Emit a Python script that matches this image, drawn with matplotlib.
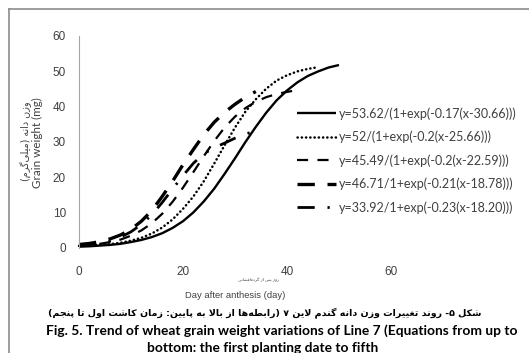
import matplotlib
matplotlib.use('Agg')
import matplotlib.pyplot as plt
from matplotlib.lines import Line2D

# ---------------- data ----------------
days_1 = [0, 2, 4, 6, 8, 10, 12, 14, 16, 18, 20, 22, 24, 26, 28, 30, 32, 34, 36, 38, 40, 42, 44, 46, 48, 50]
weight_1 = [0.3, 0.4, 0.6, 0.8, 1.1, 1.6, 2.2, 3.0, 4.1, 5.6, 7.5, 10.0, 13.1, 16.7, 20.9, 25.3, 29.9, 34.2,
            38.2, 41.7, 44.5, 46.8, 48.6, 49.9, 51.0, 51.7]

days_2 = [0, 2, 4, 6, 8, 10, 12, 14, 16, 18, 20, 22, 24, 26, 28, 30, 32, 34, 36, 38, 40, 42, 44, 46]
weight_2 = [0.5, 0.6, 0.8, 1.0, 1.4, 2.0, 2.8, 4.0, 5.7, 8.0, 11.0, 14.5, 18.8, 23.8, 29.0, 34.0, 38.5, 42.0,
            45.0, 47.3, 48.8, 49.9, 50.6, 51.1]

days_3 = [0, 2, 4, 6, 8, 10, 12, 14, 16, 18, 20, 22, 24, 26, 28, 30, 32, 34, 36, 38, 40, 42]
weight_3 = [0.5, 0.7, 1.1, 1.6, 2.3, 3.4, 4.9, 6.9, 9.6, 13.0, 17.0, 21.4, 25.9, 30.2, 34.0, 37.1, 39.5, 41.3,
            42.6, 43.5, 44.1, 44.6]

days_4 = [0, 2, 4, 6, 8, 10, 12, 14, 16, 18, 20, 22, 24, 26, 28, 30, 32, 34]
weight_4 = [0.9, 1.2, 1.7, 2.5, 3.6, 5.2, 7.5, 10.5, 14.5, 18.8, 23.5, 27.8, 32.0, 35.5, 38.3, 40.6, 42.6, 44.2]

days_5 = [0, 2, 4, 6, 8, 10, 12, 14, 16, 18, 20, 22, 24, 26, 28, 30, 32, 34]
weight_5 = [0.5, 0.8, 1.2, 1.9, 3.0, 4.5, 6.6, 9.3, 12.8, 16.6, 20.4, 23.9, 26.6, 28.3, 29.6, 31.0, 32.2, 33.0]

series_labels = [
    'y=53.62/(1+exp(-0.17(x-30.66)))',
    'y=52/(1+exp(-0.2(x-25.66)))',
    'y=45.49/(1+exp(-0.2(x-22.59)))',
    'y=46.71/1+exp(-0.21(x-18.78)))',
    'y=33.92/1+exp(-0.23(x-18.20)))',
]
x_ticks = [0, 20, 40, 60]
y_ticks = [0, 10, 20, 30, 40, 50, 60]

ylabel_fa = 'وزن دانه (میلی\u200cگرم)'
ylabel_en = 'Grain weight (mg)'
xlabel_fa = 'روز پس از گرده\u200cافشانی'
xlabel_en = 'Day after anthesis (day)'
caption_fa = 'شکل ۵- روند تغییرات وزن دانه گندم لاین ۷ (رابطه\u200cها از بالا به پایین: زمان کاشت اول تا پنجم)'
caption_en1 = 'Fig. 5. Trend of wheat grain weight variations of Line 7 (Equations from up to'
caption_en2 = 'bottom: the first planting date to fifth'

# ---------------- simple Persian shaping (presentation forms, visual order) ----------------
_FORMS = {
    '\u0627': ('\uFE8D', '\uFE8E', None, None),
    '\u0628': ('\uFE8F', '\uFE90', '\uFE91', '\uFE92'),
    '\u062A': ('\uFE95', '\uFE96', '\uFE97', '\uFE98'),
    '\u062C': ('\uFE9D', '\uFE9E', '\uFE9F', '\uFEA0'),
    '\u062F': ('\uFEA9', '\uFEAA', None, None),
    '\u0631': ('\uFEAD', '\uFEAE', None, None),
    '\u0632': ('\uFEAF', '\uFEB0', None, None),
    '\u0633': ('\uFEB1', '\uFEB2', '\uFEB3', '\uFEB4'),
    '\u0634': ('\uFEB5', '\uFEB6', '\uFEB7', '\uFEB8'),
    '\u0637': ('\uFEC1', '\uFEC2', '\uFEC3', '\uFEC4'),
    '\u063A': ('\uFECD', '\uFECE', '\uFECF', '\uFED0'),
    '\u0641': ('\uFED1', '\uFED2', '\uFED3', '\uFED4'),
    '\u0644': ('\uFEDD', '\uFEDE', '\uFEDF', '\uFEE0'),
    '\u0645': ('\uFEE1', '\uFEE2', '\uFEE3', '\uFEE4'),
    '\u0646': ('\uFEE5', '\uFEE6', '\uFEE7', '\uFEE8'),
    '\u0647': ('\uFEE9', '\uFEEA', '\uFEEB', '\uFEEC'),
    '\u0648': ('\uFEED', '\uFEEE', None, None),
    '\u067E': ('\uFB56', '\uFB57', '\uFB58', '\uFB59'),
    '\u06A9': ('\uFB8E', '\uFB8F', '\uFB90', '\uFB91'),
    '\u06AF': ('\uFB92', '\uFB93', '\uFB94', '\uFB95'),
    '\u06CC': ('\uFBFC', '\uFBFD', '\uFBFE', '\uFBFF'),
}


def _dual(c):
    return c in _FORMS and _FORMS[c][2] is not None


def fa(s):
    res = []
    n = len(s)
    i = 0
    while i < n:
        c = s[i]
        if c in _FORMS:
            prev = s[i - 1] if i > 0 else ''
            cp = _dual(prev)
            if c == '\u0644' and i + 1 < n and s[i + 1] == '\u0627':
                res.append('\uFEFC' if cp else '\uFEFB')
                i += 2
                continue
            nxt = s[i + 1] if i + 1 < n else ''
            cn = _dual(c) and nxt in _FORMS
            iso, fin, ini, med = _FORMS[c]
            res.append(med if (cp and cn) else fin if cp else ini if cn else iso)
        else:
            res.append(c)
        i += 1
    vis = ''.join(res).replace('\u200c', '')[::-1]
    return vis.translate(str.maketrans('()', ')('))


# ---------------- figure ----------------
W, H = 529, 353
fig = plt.figure(figsize=(W / 100, H / 100), dpi=100)
fig.patch.set_facecolor('white')


def fx(px):
    return px / W


def fy(py):
    return 1 - py / H


ax = fig.add_axes([fx(79), fy(247.7), fx(391) - fx(79), fy(35.7) - fy(247.7)])
ax.set_xlim(0, 60)
ax.set_ylim(0, 60)
for s in ['top', 'right', 'bottom']:
    ax.spines[s].set_visible(False)
ax.spines['left'].set_color('#a6a6a6')
ax.spines['left'].set_linewidth(0.8)
ax.set_xticks(x_ticks)
ax.set_yticks(y_ticks)
ax.tick_params(axis='both', length=0, labelsize=8.5, labelcolor='#404040')
ax.tick_params(axis='y', pad=9.5)
ax.tick_params(axis='x', pad=13)
for lab in ax.get_xticklabels() + ax.get_yticklabels():
    lab.set_fontfamily('Liberation Sans')

h1, = ax.plot(days_1, weight_1, color='black', lw=1.7, solid_capstyle='butt')
h2, = ax.plot(days_2, weight_2, color='black', lw=1.8, linestyle=(0, (0.1, 1.6)), dash_capstyle='round')
h3, = ax.plot(days_3, weight_3, color='black', lw=1.6, linestyle=(0, (5.0, 4.2)))
h4, = ax.plot(days_4, weight_4, color='black', lw=2.4, linestyle=(0, (5.2, 3.8)))
h5, = ax.plot(days_5, weight_5, color='black', lw=2.0, linestyle=(0, (6.2, 4.6, 0.8, 4.6)))
for h in (h1, h2, h3, h4, h5):
    h.set_clip_on(False)

renderer = fig.canvas.get_renderer()


def fitted_size(s, target, family, weight='normal', base=10):
    t = fig.text(0, 0, s, fontsize=base, family=family, weight=weight)
    w = t.get_window_extent(renderer).width
    t.remove()
    return base * target / w


# legend
leg_fs = fitted_size(series_labels[0], 178, ['Lato', 'DejaVu Sans'])
leg = ax.legend([h1, h2, h3, h4, h5], series_labels, loc='upper left',
                bbox_to_anchor=(fx(297), fy(107)), bbox_transform=fig.transFigure,
                frameon=False, handlelength=39 / (leg_fs * 100 / 72),
                handletextpad=0.2, labelspacing=0.88, borderpad=0, borderaxespad=0,
                prop={'family': ['Lato', 'DejaVu Sans'], 'size': leg_fs})
for t in leg.get_texts():
    t.set_color('#404040')

# axis labels
s = fitted_size(ylabel_en, 90, ['Lato'])
fig.text(fx(37), fy(142.5), ylabel_en, rotation=90, ha='center', va='center',
         fontsize=s, family=['Lato'], color='#404040')
s = fitted_size(fa(ylabel_fa), 80, ['DejaVu Sans'])
fig.text(fx(26.5), fy(141), fa(ylabel_fa), rotation=90, ha='center', va='center',
         fontsize=s, family=['DejaVu Sans'], color='#404040')

s = fitted_size(fa(xlabel_fa), 42, ['DejaVu Sans'])
fig.text(fx(258), fy(280), fa(xlabel_fa), ha='center', va='center',
         fontsize=s, family=['DejaVu Sans'], color='#404040')
s = fitted_size(xlabel_en, 100, ['Liberation Sans Narrow', 'Liberation Sans'])
fig.text(fx(235), fy(295), xlabel_en, ha='center', va='center',
         fontsize=s, family=['Liberation Sans Narrow', 'Liberation Sans'], color='#404040')

# captions
s = fitted_size(fa(caption_fa), 436, ['DejaVu Sans'], weight='bold')
fig.text(fx(265), fy(313), fa(caption_fa), ha='center', va='center',
         fontsize=s, family=['DejaVu Sans'], weight='bold', color='black')
s = fitted_size(caption_en1, 470, ['Lato'], weight='bold')
fig.text(fx(282), fy(331), caption_en1, ha='center', va='center',
         fontsize=s, family=['Lato'], weight='bold', color='black')
fig.text(fx(263), fy(348), caption_en2, ha='center', va='center',
         fontsize=s, family=['Lato'], weight='bold', color='black')

# frame
fig.add_artist(Line2D([fx(9), fx(9)], [fy(9), 0], transform=fig.transFigure, color='#8c8c8c', lw=1.2))
fig.add_artist(Line2D([fx(9), 1], [fy(9), fy(9)], transform=fig.transFigure, color='#8c8c8c', lw=1.2))

fig.savefig('out.png', dpi=100, facecolor='white')
